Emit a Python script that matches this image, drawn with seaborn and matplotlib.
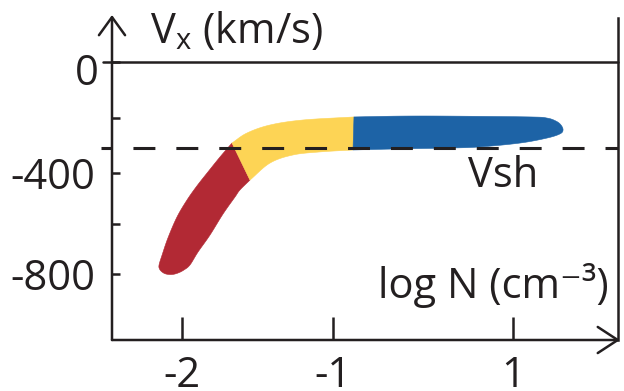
import numpy as np
import matplotlib
matplotlib.use("Agg")
import matplotlib.pyplot as plt
import matplotlib.transforms as mtransforms
import seaborn as sns

# Outline of the velocity-density band, one closed outline per phase
# (log N in cm^-3, Vx in km/s)
red_logn = [-1.669, -1.748, -1.828, -1.901, -1.967, -2.033, -2.093, -2.132, -2.152,
            -2.149, -2.132, -2.106, -2.066, -2.026, -1.987, -1.947, -1.894, -1.815,
            -1.728, -1.649, -1.616, -1.550]
red_vx = [-292, -342, -396, -451, -507, -574, -657, -725, -764,
          -780, -792, -800, -802, -796, -784, -764, -713, -646,
          -562, -495, -467, -428]

yellow_logn = [-1.669, -1.570, -1.417, -1.199, -0.767, -0.778, -1.086, -1.265, -1.417, -1.550]
yellow_vx = [-292, -256, -227, -209, -198, -317, -324, -335, -364, -428]

blue_logn = [-0.767, -0.256, 0.300, 1.189, 1.378, 1.478, 1.533, 1.556,
             1.522, 1.378, 1.078, 0.633, 0.300, -0.256, -0.778]
blue_vx = [-198, -195, -195, -198, -202, -213, -227, -245,
           -259, -274, -292, -306, -310, -313, -317]

v_sh = -310  # shock speed, km/s

x_ticks = [-2, -1, 1]
x_labels = ["-2", "-1", "1"]
y_ticks = [0, -400, -800]
y_labels = ["0", "-400", "-800"]
y_minor = [-200, -600]

RED, YELLOW, BLUE = "#B22934", "#FDD455", "#1D63A6"
INK = "#231F20"

sns.set_theme(style="white")
plt.rcParams["font.family"] = ["Open Sans", "DejaVu Sans"]
plt.rcParams["mathtext.fontset"] = "custom"
plt.rcParams["mathtext.rm"] = "Open Sans"
plt.rcParams["mathtext.it"] = "Open Sans:italic"
plt.rcParams["mathtext.bf"] = "Open Sans:bold"
plt.rcParams["lines.scale_dashes"] = False
plt.rcParams["text.color"] = INK


# Schematic axes: each axis is piecewise linear (stretched lowest decade,
# slightly compressed velocities below -400 km/s).
def fwd_x(x):
    x = np.asarray(x, dtype=float)
    return np.where(x < -1, 151.0 * (x + 1), 90.0 * (x + 1))


def inv_x(u):
    u = np.asarray(u, dtype=float)
    return np.where(u < 0, u / 151.0 - 1, u / 90.0 - 1)


def fwd_y(v):
    v = np.asarray(v, dtype=float)
    return np.where(v > -400, 111.0 * v / 400.0, -111.0 + 101.0 * (v + 400) / 400.0)


def inv_y(u):
    u = np.asarray(u, dtype=float)
    return np.where(u > -111, u * 400.0 / 111.0, (u + 111) * 400.0 / 101.0 - 400)


def smooth_chain(xs, ys, steps=12):
    """Catmull-Rom curve through an open chain of points, built in scaled space."""
    p = np.column_stack([fwd_x(xs), fwd_y(ys)])
    p = np.vstack([2 * p[0] - p[1], p, 2 * p[-1] - p[-2]])
    out = []
    t = np.linspace(0, 1, steps, endpoint=False)[:, None]
    for i in range(1, len(p) - 2):
        p0, p1, p2, p3 = p[i - 1], p[i], p[i + 1], p[i + 2]
        seg = 0.5 * ((2 * p1) + (-p0 + p2) * t + (2 * p0 - 5 * p1 + 4 * p2 - p3) * t ** 2
                     + (-p0 + 3 * p1 - 3 * p2 + p3) * t ** 3)
        out.append(seg)
    out.append(p[-2][None, :])
    q = np.vstack(out)
    return inv_x(q[:, 0]), inv_y(q[:, 1])


def smooth_outline(xs, ys, corners):
    """Smooth every edge between consecutive corner points; edges joining
    the last corner back to the first stay straight (phase boundaries)."""
    px, py = [], []
    for a, b in zip(corners[:-1], corners[1:]):
        if b - a > 1:
            sx, sy = smooth_chain(xs[a:b + 1], ys[a:b + 1])
        else:
            sx, sy = np.array(xs[a:b + 1]), np.array(ys[a:b + 1])
        px.extend(sx[:-1])
        py.extend(sy[:-1])
    px.append(xs[corners[-1]])
    py.append(ys[corners[-1]])
    return px, py


W, H = 624, 391
fig = plt.figure(figsize=(W / 100, H / 100), dpi=100)
ax = fig.add_axes([112 / W, (H - 340) / H, (618 - 112) / W, (340 - 15) / H])
ax.set_facecolor("white")

ax.set_xscale("function", functions=(fwd_x, inv_x))
ax.set_yscale("function", functions=(fwd_y, inv_y))
ax.set_xlim(-2.4636, 2.1667)
ax.set_ylim(-1061.4, 169.4)

# Band, phase by phase
phases = [(red_logn, red_vx, [0, len(red_logn) - 1], RED),
          (yellow_logn, yellow_vx, [0, 4, 5, 9], YELLOW),
          (blue_logn, blue_vx, [0, len(blue_logn) - 1], BLUE)]
for lx, ly, corners, col in phases:
    sx, sy = smooth_outline(lx, ly, corners)
    ax.fill(sx, sy, facecolor=col, edgecolor=col, lw=0.4, zorder=2)

lw_axis = 1.8
# Zero-velocity line and the shock-speed level
ax.axhline(0, xmin=-9 / 506, xmax=1, color=INK, lw=lw_axis, clip_on=False, zorder=3)
ax.axhline(v_sh, xmin=-11 / 506, xmax=1, color=INK, lw=2.2,
           linestyle=(7.9, (15.8, 15.1)), clip_on=False, zorder=4)

# Frame: open top, plain right edge; left and bottom are drawn as arrows
sns.despine(ax=ax, top=True, right=False)
ax.spines["left"].set_visible(False)
ax.spines["bottom"].set_visible(False)
ax.spines["right"].set_color(INK)
ax.spines["right"].set_linewidth(lw_axis)
ax.spines["right"].set_bounds(-1061.4, 160)

ax.annotate("", xy=(0, 1), xycoords="axes fraction", xytext=(0, 0),
            textcoords="axes fraction",
            arrowprops=dict(arrowstyle="->,head_length=13,head_width=9.4",
                            mutation_scale=1, lw=lw_axis, color=INK,
                            shrinkA=0, shrinkB=0), annotation_clip=False)
ax.annotate("", xy=(1.004, 0), xycoords="axes fraction", xytext=(0, 0),
            textcoords="axes fraction",
            arrowprops=dict(arrowstyle="->,head_length=14.4,head_width=9.4",
                            mutation_scale=1, lw=lw_axis, color=INK,
                            shrinkA=0, shrinkB=0), annotation_clip=False)

# Ticks
ax.set_xticks(x_ticks)
ax.set_xticklabels(x_labels)
ax.set_xticks([], minor=True)
ax.set_yticks(y_ticks)
ax.set_yticklabels(y_labels)
ax.set_yticks(y_minor, minor=True)
ax.tick_params(axis="x", which="major", direction="in", length=16.6, width=lw_axis,
               color=INK, labelsize=30, labelcolor=INK, pad=10.5,
               bottom=True, top=False, labelbottom=True, labeltop=False)
ax.tick_params(axis="y", which="both", direction="in", length=5.8, width=lw_axis,
               color=INK, labelsize=30, labelcolor=INK, pad=12.2,
               left=True, right=False, labelleft=True, labelright=False)

zero_lbl = ax.yaxis.get_major_ticks()[0].label1
zero_lbl.set_transform(zero_lbl.get_transform()
                       + mtransforms.ScaledTranslation(4 / 100, -7 / 100, fig.dpi_scale_trans))

# Axis titles and the shock-speed label
fig.text(150 / W, 1 - 43 / H, r"V$_{\mathrm{x}}$ (km/s)", fontsize=30,
         ha="left", va="baseline", color=INK)
fig.text(378 / W, 1 - 298 / H, "log N (cm\u207b\u00b3)", fontsize=30,
         ha="left", va="baseline", color=INK)
fig.text(468 / W, 1 - 187 / H, "Vsh", fontsize=30, ha="left", va="baseline", color=INK)

fig.savefig("out.png", dpi=100, facecolor="white")
